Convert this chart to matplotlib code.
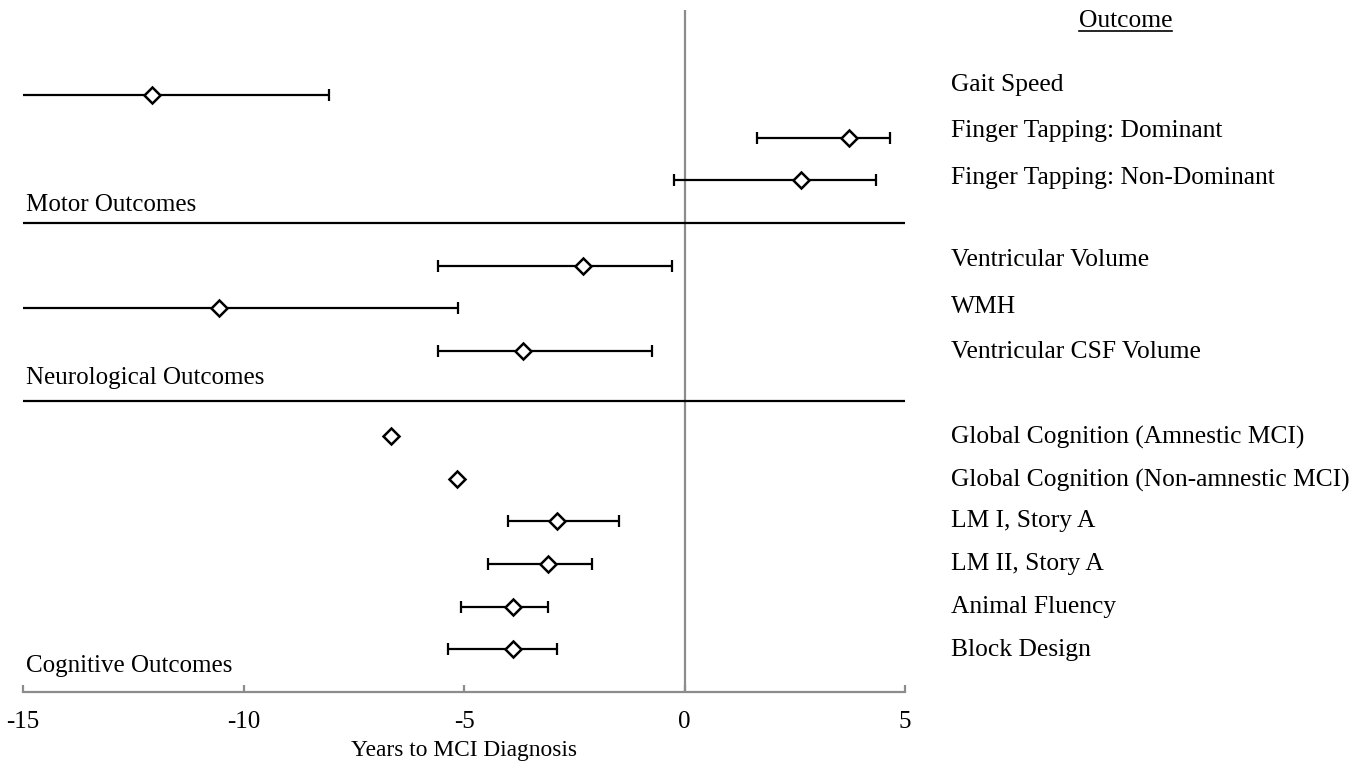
import matplotlib
matplotlib.use('Agg')
import matplotlib.pyplot as plt
from matplotlib.lines import Line2D
import numpy as np

plt.rcParams.update({
    "font.family": ["Liberation Serif", "DejaVu Serif"],
    "font.size": 18,
})

# Daten
outcomes = ["Gait Speed", "Finger Tapping: Dominant", "Finger Tapping: Non-Dominant",
            "Ventricular Volume", "WMH", "Ventricular CSF Volume",
            "Global Cognition (Amnestic MCI)", "Global Cognition (Non-amnestic MCI)",
            "LM I, Story A", "LM II, Story A", "Animal Fluency", "Block Design"]
rows = [14, 13, 12, 10, 9, 8, 6, 5, 4, 3, 2, 1]
# Zeilen der Beschriftung rechts (nicht ganz deckungsgleich mit den Markern)
label_rows = [14.25, 13.16, 12.06, 10.13, 9.03, 7.97, 5.98, 4.97, 4.0, 3.0, 2.0, 0.98]
estimates = [-12.07, 3.73, 2.64, -2.30, -10.55, -3.66, -6.65, -5.16, -2.89, -3.09, -3.89, -3.89]
lower = [-15.5, 1.64, -0.24, -5.59, -15.5, -5.59, np.nan, np.nan, -4.00, -4.45, -5.07, -5.36]
upper = [-8.06, 4.66, 4.34, -0.28, -5.14, -0.74, np.nan, np.nan, -1.48, -2.10, -3.09, -2.89]

groups = ["Motor Outcomes", "Neurological Outcomes", "Cognitive Outcomes"]
group_label_y = [11.42, 7.36, 0.62]
dividers = [11.0, 6.82]

x_ticks = [-15, -10, -5, 0, 5]

fig = plt.figure(figsize=(13.65, 7.68), dpi=100)
ax = fig.add_axes([0.0169, 0.099, 0.6461, 0.888])

ax.set_xlim(-15, 5)
ax.set_ylim(0, 16)

# Nulllinie
ax.axvline(0, color='#8c8c8c', linewidth=1.6, zorder=1)

# Trennlinien zwischen den Gruppen
for yd in dividers:
    ax.axhline(yd, color='black', linewidth=1.6, zorder=2)

# Konfidenzintervalle
est = np.array(estimates)
lo = np.array(lower)
hi = np.array(upper)
y = np.array(rows)
has_ci = ~np.isnan(lo)
ax.errorbar(est[has_ci], y[has_ci], xerr=[est[has_ci] - lo[has_ci], hi[has_ci] - est[has_ci]],
            fmt='none', ecolor='black', elinewidth=1.6, capsize=4, capthick=1.6, zorder=3)

# Punktschätzer
ax.plot(est, y, linestyle='none', marker='D', markersize=8, markerfacecolor='white',
        markeredgecolor='black', markeredgewidth=1.8, zorder=4)

# Gruppenbeschriftungen
for g, gy in zip(groups, group_label_y):
    ax.text(-14.93, gy, g, ha='left', va='center', fontsize=18)

# Beschriftung rechts
for name, r in zip(outcomes, label_rows):
    ax.text(6.05, r, name, ha='left', va='center', fontsize=18.4, clip_on=False)

head = ax.text(10.0, 15.74, "Outcome", ha='center', va='center', fontsize=18.4, clip_on=False)

# Achsen
for s in ['top', 'right', 'left']:
    ax.spines[s].set_visible(False)
ax.spines['bottom'].set_color('#8c8c8c')
ax.spines['bottom'].set_linewidth(1.6)
ax.set_yticks([])
ax.set_xticks(x_ticks)
ax.set_xticklabels([str(t) for t in x_ticks])
ax.tick_params(axis='x', direction='in', length=5, width=1.6, color='#8c8c8c', pad=13.5, labelsize=18)
ax.set_xlabel("Years to MCI Diagnosis", fontsize=16.8, labelpad=5)

# Unterstreichung für "Outcome"
fig.canvas.draw()
bb = head.get_window_extent()
W, H = fig.bbox.width, fig.bbox.height
uy = (bb.y0 + 1) / H
fig.add_artist(Line2D([bb.x0 / W, bb.x1 / W], [uy, uy], color='black', linewidth=1.2,
                      transform=fig.transFigure))

fig.savefig('out.png', dpi=100)
plt.close(fig)
